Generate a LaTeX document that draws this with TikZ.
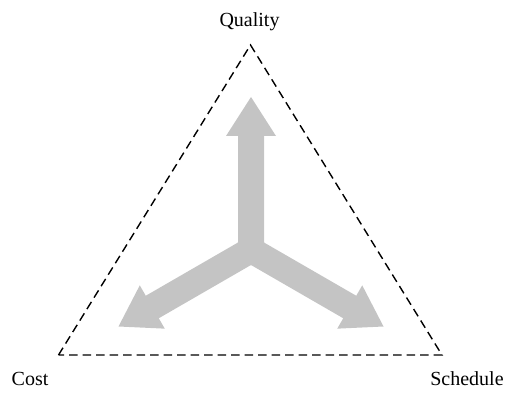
\documentclass[tikz,border=0pt]{standalone}
\usepackage{fontspec}
\setmainfont{Liberation Serif}
\definecolor{armgray}{RGB}{196,196,196}
\begin{document}
\begin{tikzpicture}[x=1pt,y=1pt,
  tri/.style={draw=black,line width=1.4pt,dash pattern=on 8.5pt off 5pt,line join=miter},
  arm/.style={fill=armgray,draw=none},
  lbl/.style={font=\fontsize{20}{24}\selectfont,anchor=base,inner sep=0pt}]
\useasboundingbox (0,0) rectangle (505,399);
\coordinate (Q) at (250.5,354);
\coordinate (C) at (58.5,44);
\coordinate (S) at (442,44);
\coordinate (O) at (251,149);
\draw[tri] (C) -- (Q) -- (S) -- cycle;
\foreach \a in {90,210,330}{
  \fill[arm,shift={(O)},rotate=\a]
    (-15,-13) -- (114,-13) -- (114,-25) -- (153,0) -- (114,25) -- (114,13) -- (-15,13) -- cycle;
}
\node[lbl] (ql) at (249.5,372) {Quality};
\node[lbl] (cl) at (30,13.5) {Cost};
\node[lbl] (sl) at (467,13.5) {Schedule};
\end{tikzpicture}
\end{document}
